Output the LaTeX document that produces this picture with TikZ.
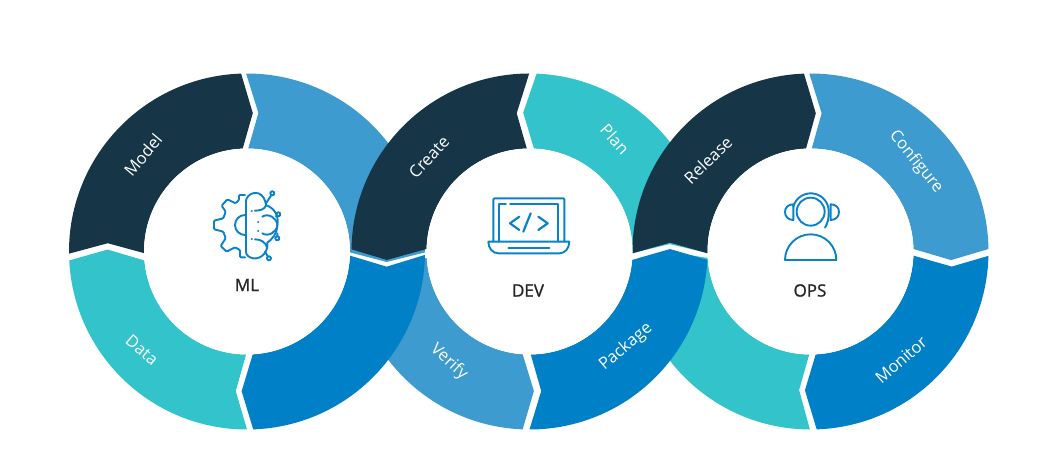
\documentclass[tikz,border=0pt]{standalone}
\usepackage{fontspec}
\setmainfont{Open Sans}
\newfontfamily\ringfont[FakeBold=1.2]{Open Sans}
\definecolor{navyseg}{HTML}{163648}
\definecolor{skyseg}{HTML}{3D9BD0}
\definecolor{blueseg}{HTML}{0080C6}
\definecolor{tealseg}{HTML}{33C4CB}
\definecolor{iconblue}{HTML}{0A82C8}
\tikzset{
	seglabel/.style={text=white, font=\fontsize{16.5}{18}\selectfont, inner sep=0pt},
	ringname/.style={text=black!85, font=\fontsize{17}{18}\selectfont\ringfont, inner sep=0pt},
	disc/.style={circle, fill=white, minimum size=206pt, inner sep=0pt},
	iconline/.style={draw=iconblue, line width=#1, line cap=round, line join=round},
	iconline/.default=1.9pt,
	iconframe/.style={shift={#1}, x=0.3333pt, y=-0.3333pt}
}
% one ring segment: centre, colour, outer arc, tip, inner arc, tip
\newcommand{\ringseg}[8]{
	\fill[#2, shift={(#1)}] (#3:178) arc[start angle=#3, end angle=#4, radius=178]
		-- (#5) -- (#6:103) arc[start angle=#6, end angle=#7, radius=103] -- (#8) -- cycle;
}
\begin{document}
\begin{tikzpicture}[x=1pt, y=1pt]
	\useasboundingbox (0,0) rectangle (1054,470);
	\coordinate (mlcenter) at (247,218.5);
	\coordinate (devcenter) at (529.5,218.5);
	\coordinate (opscenter) at (810.5,218.5);

	% segments lying under the next ring
	\ringseg{mlcenter}{skyseg}{90.3}{-0.3}{-4.3:140}{-0.5}{89.3}{85.3:139}
	\ringseg{devcenter}{skyseg}{182}{267.8}{271.8:139.6}{266.2}{183.6}{186.6:142}
	\ringseg{devcenter}{tealseg}{-0.5}{87.7}{92.6:139}{87.5}{-0.8}{3:140.5}
	\ringseg{opscenter}{tealseg}{183}{269.8}{265.3:139}{269.3}{183.6}{180.2:140.5}

	\ringseg{mlcenter}{navyseg}{180.7}{91.9}{87.6:138.5}{92.4}{180.9}{176.6:139.5}
	\ringseg{mlcenter}{tealseg}{270}{182.9}{179.2:139.5}{185}{269.5}{265.4:140}
	\ringseg{mlcenter}{blueseg}{358.9}{272}{267.8:139.8}{273.2}{357.7}{353.8:140.5}

	\ringseg{devcenter}{navyseg}{90.1}{179.3}{183.4:143}{178.6}{91.5}{95.3:138.8}
	\ringseg{devcenter}{blueseg}{270}{357.3}{1:140.5}{355.3}{270.7}{274.8:140}

	\ringseg{opscenter}{navyseg}{180.6}{92.1}{87.8:138.3}{92.5}{181}{176.4:140.8}
	\ringseg{opscenter}{skyseg}{90.4}{0.8}{-3.5:140.8}{1.4}{89.3}{85.4:138.7}
	\ringseg{opscenter}{blueseg}{358.6}{272}{267.7:139}{272.9}{357.7}{353.9:142}

	\node[disc] (mldisc) at (mlcenter) {};
	\node[disc] (devdisc) at (devcenter) {};
	\node[disc] (opsdisc) at (opscenter) {};

	\node[seglabel, rotate=50] (model) at (143,315) {Model};
	\node[seglabel, rotate=-40] (data) at (142,120) {Data};
	\node[seglabel, rotate=47] (create) at (429,313) {Create};
	\node[seglabel, rotate=-48] (plan) at (615,331) {Plan};
	\node[seglabel, rotate=-42] (verify) at (449,108) {Verify};
	\node[seglabel, rotate=40] (package) at (626,123) {Package};
	\node[seglabel, rotate=44] (release) at (708,310) {Release};
	\node[seglabel, rotate=-51] (configure) at (916,308) {Configure};
	\node[seglabel, rotate=41] (monitor) at (901,110) {Monitor};

	\node[ringname] (mlname) at (247,185) {ML};
	\node[ringname] (devname) at (528,179.5) {DEV};
	\node[ringname] (opsname) at (810,179.5) {OPS};

	% ML icon
	\begin{scope}[iconframe={(190,300)}]
		\draw[iconline, rounded corners=1pt] (165,75) -- (147,75) -- (147,90) -- (137,100) -- (112,88)
			-- (95,107) -- (107,125) -- (100,145) -- (72,152) -- (72,178) -- (100,185) -- (107,205)
			-- (92,228) -- (110,245) -- (135,232) -- (150,240) -- (150,262) -- (165,262);
		\draw[iconline] (165,135) arc[start angle=-90, end angle=-270, radius=30];
		\draw[iconline] (168,245) -- (168,92) .. controls (170,72) and (205,55) .. (222,85)
			.. controls (226,95) and (228,100) .. (228,106)
			.. controls (250,112) and (268,135) .. (262,165)
			.. controls (262,190) and (245,210) .. (232,218)
			.. controls (235,245) and (215,268) .. (190,265)
			.. controls (178,263) and (168,256) .. (168,245);
		\draw[iconline] (195,122) .. controls (210,122) and (225,118) .. (228,106);
		\draw[iconline] (195,208) .. controls (210,208) and (228,215) .. (232,235);
		\draw[iconline] (217,140) .. controls (235,128) and (262,145) .. (262,165)
			.. controls (262,185) and (235,202) .. (217,190);
		\draw[iconline] (185,122) -- (186,122) (204,156) -- (205,156) (204,183) -- (205,183) (185,208) -- (186,208);
		\draw[iconline] (228,100) -- (243,77) (258,140) -- (260,137) (262,190) -- (262,199) (225,245) -- (233,259);
		\draw[iconline] (247,70) circle[radius=6] (265,133) circle[radius=6] (262,205) circle[radius=6] (237,265) circle[radius=6];
	\end{scope}

	% DEV icon
	\begin{scope}[iconframe={(470,290)}]
		\draw[iconline, rounded corners=1pt] (70,185) -- (70,55) -- (283,55) -- (283,185);
		\draw[iconline] (88,185) -- (88,72) -- (108,72) (120,72) -- (265,72) -- (265,185);
		\draw[iconline] (55,185) -- (298,185) .. controls (298,205) and (285,220) .. (268,220)
			-- (85,220) .. controls (68,220) and (55,205) .. (55,185);
		\draw[iconline] (115,204) -- (238,204);
		\draw[iconline=2.2pt] (148,110) -- (120,130) -- (148,150) (182,100) -- (160,155) (205,110) -- (233,130) -- (205,150);
	\end{scope}

	% OPS icon
	\begin{scope}[iconframe={(760,295)}]
		\draw[iconline] (152,110) circle[radius=42];
		\draw[iconline] (100,95) arc[start angle=-165, end angle=0, radius=54] .. controls (207,130) and (203,145) .. (195,158);
		\draw[iconline] (100,88) .. controls (84,88) and (75,98) .. (75,111) .. controls (75,124) and (84,135) .. (100,135) -- cycle;
		\draw[iconline] (212,88) .. controls (228,88) and (237,98) .. (237,111) .. controls (237,124) and (228,135) .. (212,135) -- cycle;
		\draw[iconline] (75,255) arc[start angle=180, end angle=360, radius=77] -- cycle;
	\end{scope}
\end{tikzpicture}
\end{document}
